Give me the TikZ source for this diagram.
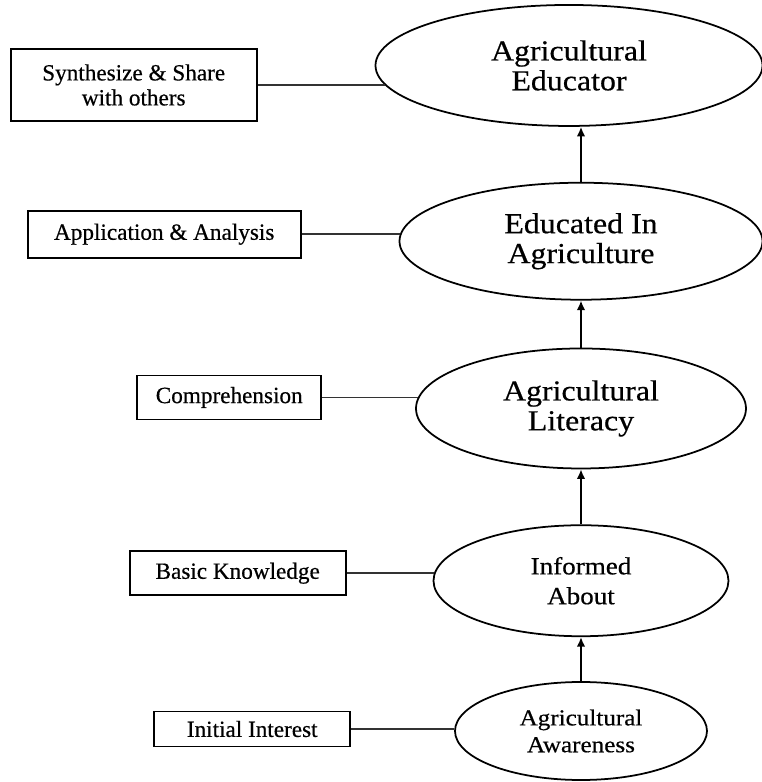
\documentclass[tikz,border=0pt]{standalone}
\usepackage{fontspec}
\setmainfont[FakeBold=0.5]{Liberation Serif}
\newfontfamily\stagefont[FakeStretch=1.1, FakeBold=0.5]{Liberation Serif}
\usepackage{tikz}
\usetikzlibrary{shapes.geometric, arrows.meta, positioning}
\tikzset{
	stage/.style={ellipse, draw=black, line width=1pt, inner sep=0pt, align=center, font=\stagefont\fontsize{16.5}{17}\selectfont},
	level/.style={rectangle, draw=black, line width=1pt, inner sep=0pt, align=center, font=\fontsize{13.2}{14.2}\selectfont},
	link/.style={line width=0.9pt, draw=black!80},
	arrow/.style={line width=1pt,-{Latex[length=1.9mm, width=1.7mm]}}
}

\begin{document}
\begin{tikzpicture}[node distance=1cm]
		\useasboundingbox (-11.62,-1.02) rectangle (3.62,14.62);
		
		% Escalera de etapas (de abajo hacia arriba)
		\node (aware) [stage, minimum width=5.04cm, minimum height=1.96cm, font=\stagefont\fontsize{13}{15.3}\selectfont] {Agricultural\\Awareness};
		\node (inform) [stage, above=0.88cm of aware, minimum width=5.9cm, minimum height=2.22cm, font=\stagefont\fontsize{14}{17}\selectfont] {Informed\\About};
		\node (literacy) [stage, above=1.1cm of inform, minimum width=6.6cm, minimum height=2.4cm] {Agricultural\\Literacy};
		\node (educated) [stage, above=0.94cm of literacy, minimum width=7.26cm, minimum height=2.34cm] {Educated In\\Agriculture};
		\node (educator) [stage, above=1.1cm of educated, xshift=-0.24cm, minimum width=7.74cm, minimum height=2.42cm] {Agricultural\\Educator};
		
		% Niveles a la izquierda
		\node (share) [level, left=2.34cm of educator, yshift=-0.39cm, minimum width=4.92cm, minimum height=1.44cm] {Synthesize \& Share\\with others};
		\node (apply) [level, left=1.94cm of educated, yshift=0.14cm, minimum width=5.46cm, minimum height=0.94cm] {Application \& Analysis};
		\node (comp) [level, left=1.86cm of literacy, yshift=0.22cm, minimum width=3.68cm, minimum height=0.88cm] {Comprehension};
		\node (basic) [level, left=1.72cm of inform, yshift=0.15cm, minimum width=4.32cm, minimum height=0.88cm] {Basic Knowledge};
		\node (interest) [level, left=2.06cm of aware, yshift=0.04cm, minimum width=3.92cm, minimum height=0.70cm] {Initial Interest};
		
		% Conexiones
		\draw [link] (share) -- (share.east -| educator.186);
		\draw [link] (apply) -- (apply.east -| educated.178);
		\draw [link] (comp) -- (comp.east -| literacy.176);
		\draw [link] (basic) -- (basic.east -| inform.177);
		\draw [link] (interest) -- (interest.east -| aware.west);
		\draw [arrow] (aware) -- (inform);
		\draw [arrow] (inform) -- (literacy);
		\draw [arrow] (literacy) -- (educated);
		\draw [arrow] (educated.north) -- (educated.north |- educator.south);
	\end{tikzpicture}
\end{document}
